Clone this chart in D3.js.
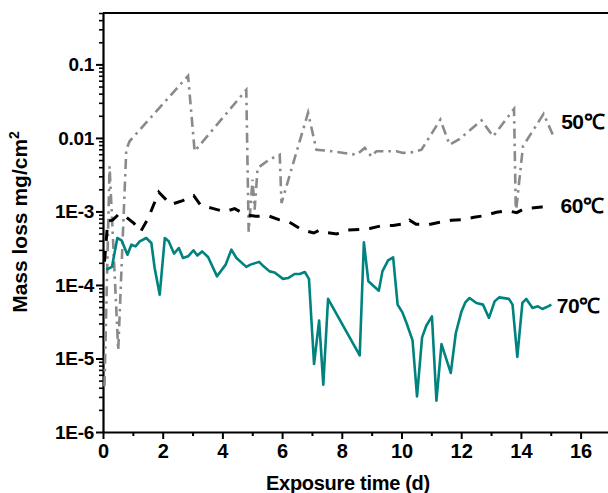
<!DOCTYPE html>
<html>
<head>
<meta charset="utf-8">
<script src="https://cdn.jsdelivr.net/npm/d3@7/dist/d3.min.js"></script>
<style>
  body { margin: 0; background: #fff; }
  text { font-family: "Liberation Sans", Arial, Helvetica, sans-serif; font-weight: bold; fill: #000; }
</style>
</head>
<body>
<svg id="chart" width="608" height="493"></svg>
<script>
// mass loss (mg/cm2) against exposure time (d)
const loss50 = [
    [0.05, 4.2e-6], [0.22, 4.1e-3], [0.51, 1.3e-5], [0.78, 6.9e-3], [0.89, 9.0e-3],
    [2.85, 0.070], [3.07, 6.6e-3], [4.80, 0.045], [4.88, 5.3e-4], [5.01, 2.7e-3],
    [5.08, 1.06e-3], [5.18, 3.9e-3], [5.58, 5.1e-3], [5.92, 5.9e-3], [5.98, 1.3e-3],
    [6.87, 0.022], [7.15, 6.9e-3], [7.65, 6.6e-3], [8.49, 5.9e-3], [8.77, 7.3e-3],
    [8.99, 5.6e-3], [9.16, 6.6e-3], [9.83, 6.6e-3], [10.05, 6.25e-3], [10.39, 6.4e-3],
    [10.67, 6.9e-3], [11.30, 0.0177], [11.61, 8.1e-3], [11.95, 9.7e-3], [12.68, 0.0173],
    [13.07, 0.0105], [13.77, 0.0248], [13.83, 9.5e-4], [14.07, 7.7e-3], [14.76, 0.0212],
    [15.13, 9.7e-3]
];
const loss60 = [
    [0.05, 2.07e-4], [0.16, 7.38e-4], [0.32, 7.62e-4], [0.53, 9.18e-4], [0.76, 8.49e-4],
    [1.03, 6.93e-4], [1.26, 5.31e-4], [1.50, 7.85e-4], [1.87, 1.83e-3], [2.27, 1.24e-3],
    [2.67, 1.40e-3], [3.04, 1.64e-3], [3.27, 1.22e-3], [3.64, 1.11e-3], [4.08, 9.93e-4],
    [4.41, 1.09e-3], [4.78, 9.04e-4], [5.12, 8.57e-4], [5.52, 8.77e-4], [5.89, 7.73e-4],
    [6.25, 7.14e-4], [6.66, 5.65e-4], [7.06, 5.09e-4], [7.24, 5.53e-4], [7.43, 5.20e-4],
    [7.83, 4.94e-4], [8.17, 5.57e-4], [8.60, 5.70e-4], [8.94, 5.87e-4], [9.38, 6.45e-4],
    [9.72, 6.45e-4], [10.14, 6.82e-4], [10.27, 7.62e-4], [10.49, 6.71e-4], [10.89, 6.61e-4],
    [11.28, 7.11e-4], [11.67, 7.57e-4], [12.01, 7.73e-4], [12.43, 8.32e-4], [12.79, 8.77e-4],
    [13.18, 9.73e-4], [13.55, 1.02e-3], [13.86, 9.64e-4], [14.06, 1.06e-3], [14.19, 1.10e-3],
    [14.69, 1.15e-3], [14.98, 1.15e-3]
];
const loss70 = [
    [0.11, 1.61e-4], [0.30, 1.76e-4], [0.48, 4.35e-4], [0.62, 4.05e-4], [0.82, 2.58e-4],
    [0.95, 3.53e-4], [1.09, 3.35e-4], [1.23, 3.92e-4], [1.45, 4.35e-4], [1.62, 3.72e-4],
    [1.73, 1.70e-4], [1.90, 7.38e-5], [2.07, 4.35e-4], [2.20, 3.92e-4], [2.38, 2.67e-4],
    [2.54, 3.18e-4], [2.68, 2.33e-4], [2.85, 2.45e-4], [3.03, 2.96e-4], [3.16, 2.51e-4],
    [3.32, 2.86e-4], [3.52, 2.40e-4], [3.82, 1.31e-4], [4.11, 1.89e-4], [4.30, 3.02e-4],
    [4.47, 2.33e-4], [4.80, 1.76e-4], [4.94, 1.89e-4], [5.23, 2.06e-4], [5.38, 1.79e-4],
    [5.58, 1.53e-4], [5.75, 1.48e-4], [6.03, 1.21e-4], [6.20, 1.24e-4], [6.42, 1.41e-4],
    [6.59, 1.41e-4], [6.76, 1.50e-4], [6.90, 1.21e-4], [7.07, 8.41e-6], [7.24, 3.27e-5],
    [7.38, 4.40e-6], [7.54, 6.46e-5], [8.60, 1.10e-5], [8.74, 3.80e-4], [8.89, 1.12e-4],
    [9.24, 8.36e-5], [9.36, 1.53e-4], [9.55, 2.16e-4], [9.72, 2.38e-4], [9.87, 5.40e-5],
    [10.03, 4.24e-5], [10.18, 2.94e-5], [10.37, 1.76e-5], [10.52, 3.05e-6], [10.69, 1.94e-5],
    [10.83, 2.79e-5], [11.02, 3.74e-5], [11.17, 2.67e-6], [11.34, 1.57e-5], [11.65, 6.35e-6],
    [11.82, 2.22e-5], [12.01, 4.37e-5], [12.14, 5.80e-5], [12.28, 6.65e-5], [12.51, 5.69e-5],
    [12.73, 5.40e-5], [12.93, 3.56e-5], [13.12, 5.98e-5], [13.27, 6.78e-5], [13.60, 6.46e-5],
    [13.72, 5.40e-5], [13.88, 1.05e-5], [14.05, 5.69e-5], [14.18, 6.46e-5], [14.39, 4.86e-5],
    [14.57, 5.12e-5], [14.72, 4.71e-5], [14.91, 5.12e-5], [15.02, 5.40e-5]
];

const seriesNames = ['50℃', '60℃', '70℃'];
const yMajorTicks = [1e-6, 1e-5, 1e-4, 1e-3, 0.01, 0.1];
const yTickLabels = ['1E-6', '1E-5', '1E-4', '1E-3', '0.01', '0.1'];
const xMajorTicks = [0, 2, 4, 6, 8, 10, 12, 14, 16];
const xMinorTicks = [1, 3, 5, 7, 9, 11, 13, 15];

const svg = d3.select('#chart');
const plotLeft = 103, plotTop = 13, plotBottom = 432;

const x = d3.scaleLinear().domain([0, 17]).range([plotLeft, plotLeft + 17 * 29.85]);
const y = d3.scaleLog().domain([1e-6, 0.5]).range([plotBottom, plotTop]);

// frame: top border
svg.append('line')
    .attr('x1', x(0)).attr('x2', x(17))
    .attr('y1', y(0.5)).attr('y2', y(0.5))
    .attr('stroke', '#000').attr('stroke-width', 2);

// y axis, minor ticks first then majors with labels
let yMinor = y.ticks().filter(function(v) {
    return Math.abs(Math.log10(v) - Math.round(Math.log10(v))) > 1e-6;
});
svg.append('g')
    .attr('transform', 'translate(' + plotLeft + ',0)')
    .call(d3.axisLeft(y).tickValues(yMinor).tickSize(4).tickSizeOuter(0).tickFormat(''))
    .call(g => g.select('.domain').remove())
    .call(g => g.selectAll('line').attr('stroke-width', 1.6));

let yAxis = svg.append('g')
    .attr('transform', 'translate(' + plotLeft + ',0)')
    .call(d3.axisLeft(y).tickValues(yMajorTicks).tickSize(7).tickSizeOuter(0)
        .tickFormat(function(d, i) { return yTickLabels[i]; }));
yAxis.select('.domain').attr('stroke-width', 2.2);
yAxis.selectAll('line').attr('stroke-width', 2);
yAxis.selectAll('text')
    .attr('x', -9)
    .style('font-size', '19px')
    .style('letter-spacing', '-0.3px');

// x axis
svg.append('g')
    .attr('transform', 'translate(0,' + plotBottom + ')')
    .call(d3.axisBottom(x).tickValues(xMinorTicks).tickSize(4).tickFormat(''))
    .call(g => g.select('.domain').remove())
    .call(g => g.selectAll('line').attr('stroke-width', 2));

let xAxis = svg.append('g')
    .attr('transform', 'translate(0,' + plotBottom + ')')
    .call(d3.axisBottom(x).tickValues(xMajorTicks).tickSize(7).tickSizeOuter(0)
        .tickFormat(d3.format('d')));
xAxis.select('.domain').attr('stroke-width', 2.2);
xAxis.selectAll('line').attr('stroke-width', 2);
xAxis.selectAll('text')
    .attr('y', 12)
    .style('font-size', '20px');

// axis titles
svg.append('text')
    .attr('x', 348).attr('y', 490)
    .attr('text-anchor', 'middle')
    .style('font-size', '20px')
    .style('letter-spacing', '-0.3px')
    .text('Exposure time (d)');

let yTitle = svg.append('text')
    .attr('transform', 'translate(27,222) rotate(-90)')
    .attr('text-anchor', 'middle')
    .style('font-size', '21px');
yTitle.append('tspan').text('Mass loss mg/cm');
yTitle.append('tspan').attr('dy', -8).style('font-size', '14px').text('2');

// lines
let line = d3.line()
    .x(function(d) { return x(d[0]); })
    .y(function(d) { return y(d[1]); });

svg.append('path')
    .datum(loss50)
    .attr('fill', 'none')
    .attr('stroke', '#8a8a8a')
    .attr('stroke-width', 2.6)
    .attr('stroke-dasharray', '10,5,2.5,5')
    .attr('d', line);

svg.append('path')
    .datum(loss60)
    .attr('fill', 'none')
    .attr('stroke', '#000')
    .attr('stroke-width', 3)
    .attr('stroke-dasharray', '11,10')
    .attr('d', line);

svg.append('path')
    .datum(loss70)
    .attr('fill', 'none')
    .attr('stroke', '#00827f')
    .attr('stroke-width', 2.6)
    .attr('stroke-linejoin', 'round')
    .attr('d', line);

// series labels at the right end
const labelAnchors = [[15.35, 0.0165], [15.33, 1.2e-3], [15.2, 5.3e-5]];
svg.selectAll('text.series')
    .data(seriesNames)
    .enter().append('text')
    .attr('class', 'series')
    .attr('x', function(d, i) { return x(labelAnchors[i][0]); })
    .attr('y', function(d, i) { return y(labelAnchors[i][1]); })
    .attr('dy', '0.36em')
    .style('font-size', '21px')
    .style('letter-spacing', '-0.5px')
    .text(function(d) { return d; });
</script>
</body>
</html>
